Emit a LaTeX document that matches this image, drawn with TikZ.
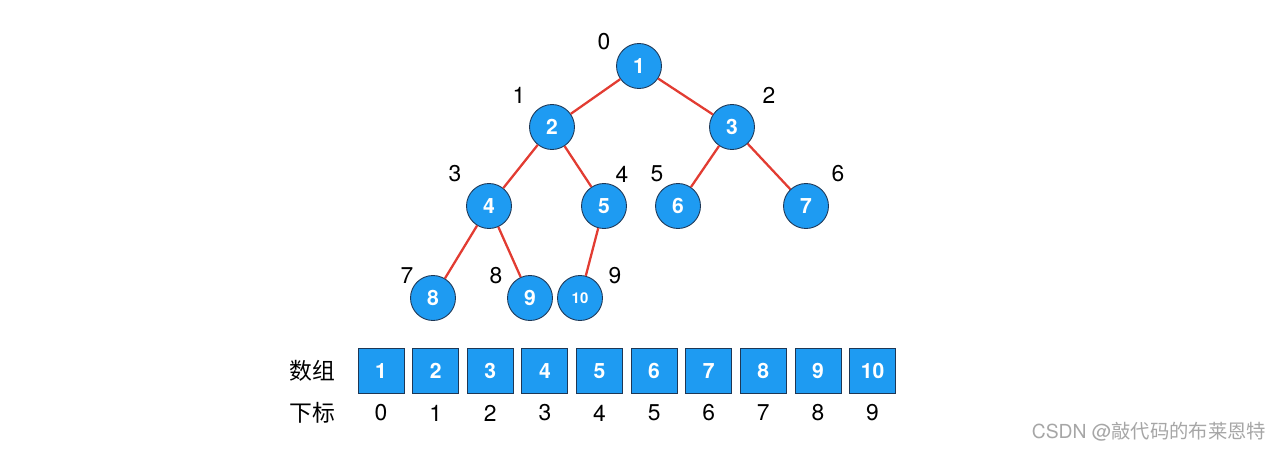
\documentclass[tikz,border=0pt]{standalone}
\usepackage{fontspec}
\setmainfont{TeX Gyre Heros}
\newfontfamily\cjk{Noto Sans CJK SC}
\usepackage{tikz}
\usetikzlibrary{positioning}
\definecolor{heapblue}{RGB}{30,155,242}
\definecolor{heapline}{RGB}{30,55,85}
\definecolor{edgered}{RGB}{226,60,50}

\begin{document}
\begin{tikzpicture}[
        x=0.02cm, y=-0.02cm,
        every node/.style={font=\fontsize{13}{15}\selectfont},
        heapnode/.style={circle, draw=heapline, line width=0.5pt, fill=heapblue, minimum size=0.9cm, inner sep=0pt, text=white, font=\fontsize{12}{14}\selectfont\bfseries},
        cell/.style={rectangle, draw=heapline, line width=0.5pt, fill=heapblue, minimum width=0.92cm, minimum height=0.9cm, inner sep=0pt, text=white, font=\fontsize{12}{14}\selectfont\bfseries},
        idx/.style={text=black},
        edge/.style={draw=edgered, line width=1.3pt}
    ]
        \useasboundingbox (0,0) rectangle (1280,450);

        % tree
        \node[heapnode] (n1) at (639,66) {1};
        \node[heapnode] (n2) at (552,127) {2};
        \node[heapnode] (n3) at (732,127) {3};
        \node[heapnode] (n4) at (489,206) {4};
        \node[heapnode] (n5) at (604,206) {5};
        \node[heapnode] (n6) at (678,206) {6};
        \node[heapnode] (n7) at (806,206) {7};
        \node[heapnode] (n8) at (433,298) {8};
        \node[heapnode] (n9) at (530,298) {9};
        \node[heapnode, font=\fontsize{8.5}{10}\selectfont\bfseries] (n10) at (580,298) {10};

        \draw[edge] (n1) -- (n2);
        \draw[edge] (n1) -- (n3);
        \draw[edge] (n2) -- (n4);
        \draw[edge] (n2) -- (n5);
        \draw[edge] (n3) -- (n6);
        \draw[edge] (n3) -- (n7);
        \draw[edge] (n4) -- (n8);
        \draw[edge] (n4) -- (n9);
        \draw[edge] (n5) -- (n10);

        % indices in the tree
        \node[idx] (l0) at (604,42) {0};
        \node[idx] (l1) at (519,95) {1};
        \node[idx] (l2) at (769,95) {2};
        \node[idx] (l3) at (455,174) {3};
        \node[idx] (l4) at (622,174) {4};
        \node[idx] (l5) at (657,174) {5};
        \node[idx] (l6) at (838,174) {6};
        \node[idx] (l7) at (407,276) {7};
        \node[idx] (l8) at (496,276) {8};
        \node[idx] (l9) at (615,276) {9};

        % array
        \node[cell] (a1) at (381,371) {1};
        \node[cell, right=0.155cm of a1] (a2) {2};
        \node[cell, right=0.155cm of a2] (a3) {3};
        \node[cell, right=0.155cm of a3] (a4) {4};
        \node[cell, right=0.155cm of a4] (a5) {5};
        \node[cell, right=0.155cm of a5] (a6) {6};
        \node[cell, right=0.155cm of a6] (a7) {7};
        \node[cell, right=0.155cm of a7] (a8) {8};
        \node[cell, right=0.155cm of a8] (a9) {9};
        \node[cell, right=0.155cm of a9] (a10) {10};

        \node (arr) at (312,371) {\cjk 数组};
        \node (sub) at (312,413) {\cjk 下标};

        \node (i0) at (a1 |- sub) {0};
        \node (i1) at (a2 |- sub) {1};
        \node (i2) at (a3 |- sub) {2};
        \node (i3) at (a4 |- sub) {3};
        \node (i4) at (a5 |- sub) {4};
        \node (i5) at (a6 |- sub) {5};
        \node (i6) at (a7 |- sub) {6};
        \node (i7) at (a8 |- sub) {7};
        \node (i8) at (a9 |- sub) {8};
        \node (i9) at (a10 |- sub) {9};

        \node[text=gray!70, font=\fontsize{11}{13}\selectfont] (mark) at (1149,432) {CSDN @{\cjk 敲代码的布莱恩特}};
    \end{tikzpicture}
\end{document}
